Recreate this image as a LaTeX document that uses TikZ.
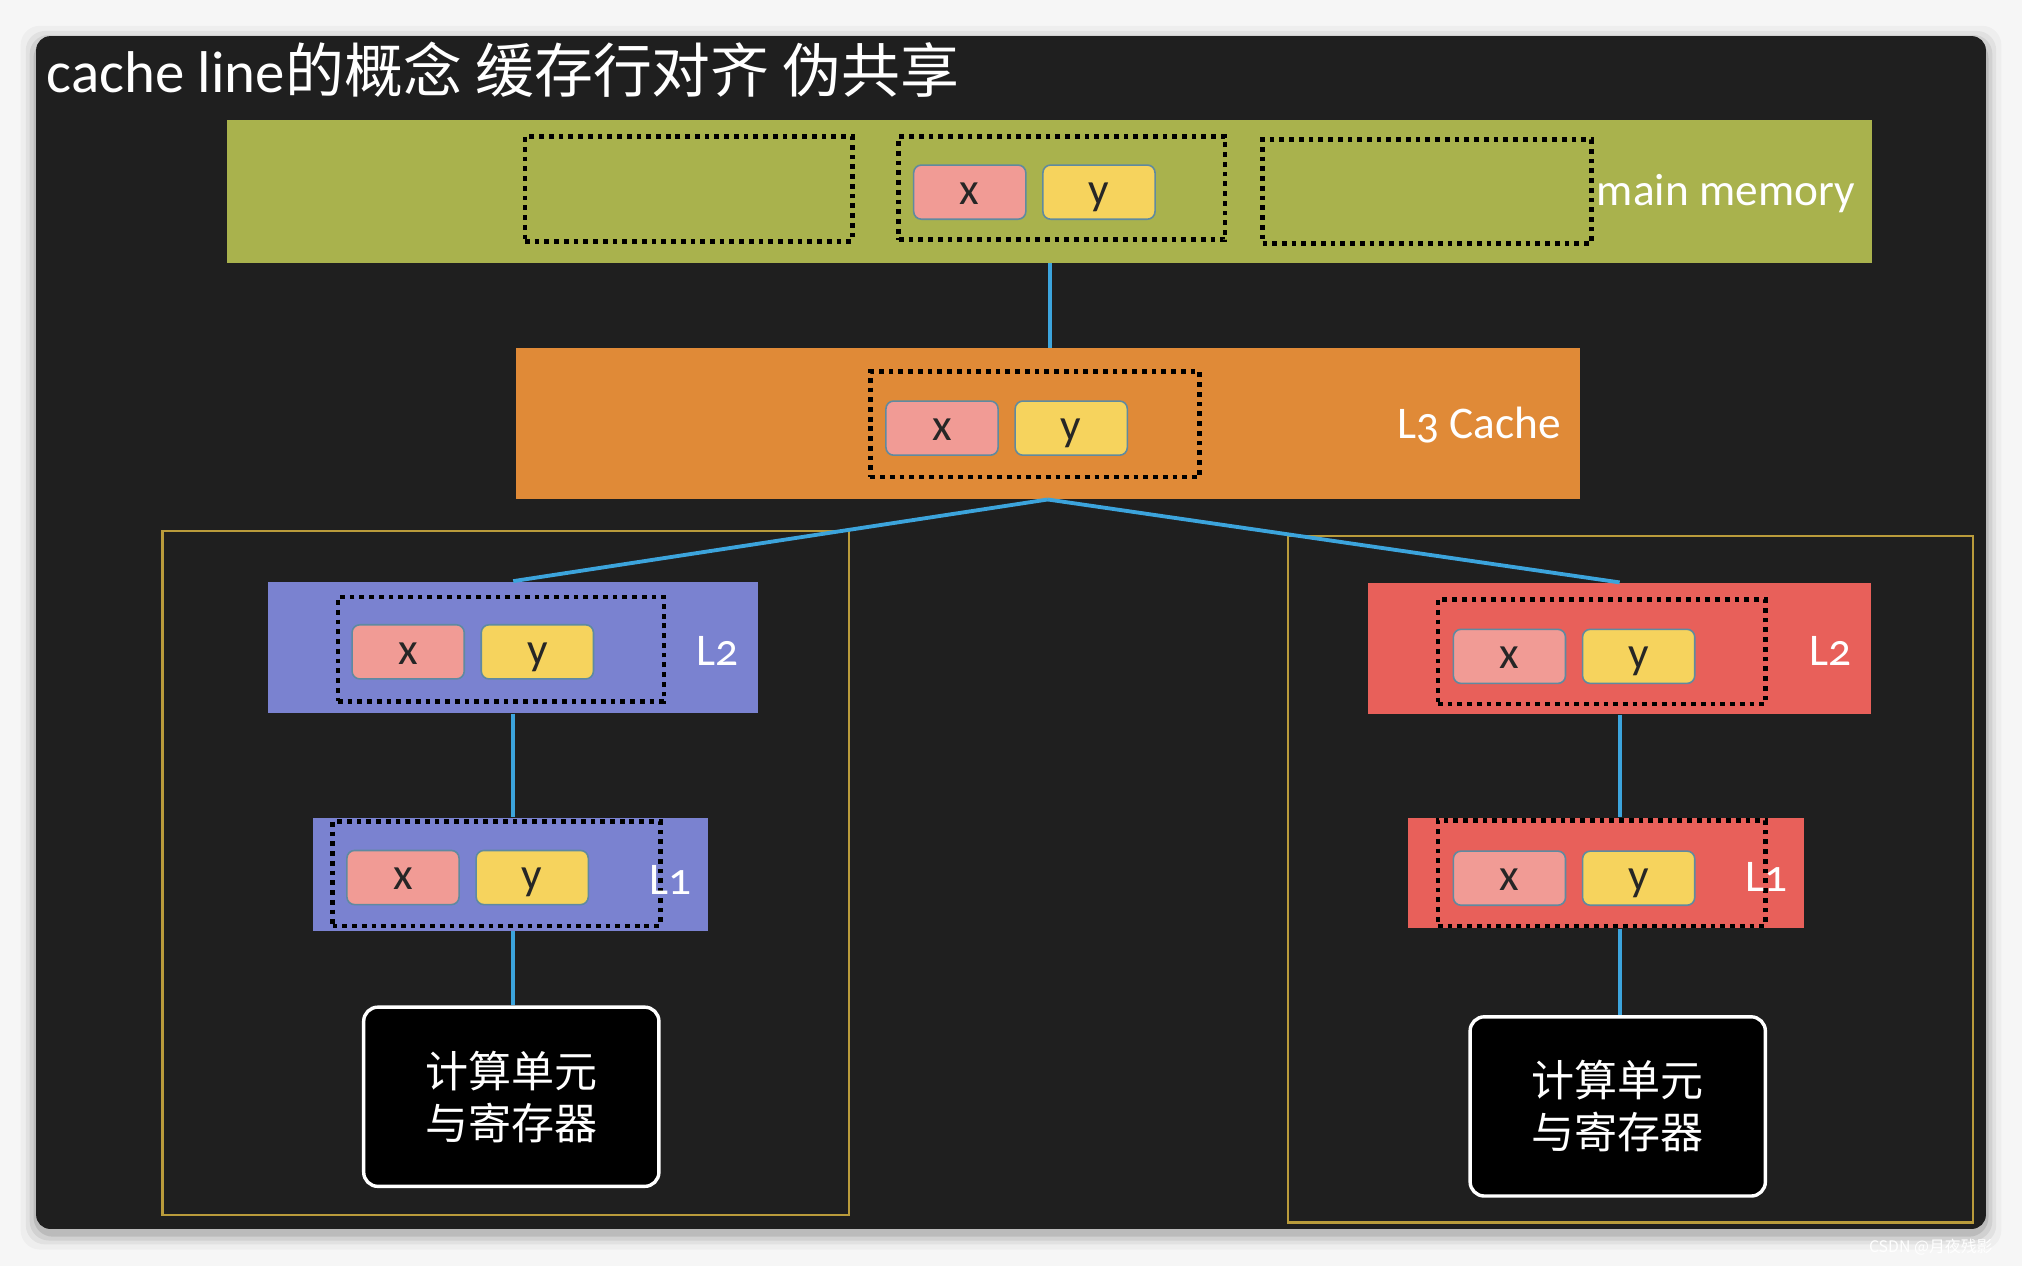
\documentclass[tikz,border=0pt]{standalone}
\usepackage{fontspec}
\setmainfont{Carlito}[Numbers=OldStyle]
\newfontfamily\cjk{Noto Sans CJK SC}
\usepackage{tikz}
\usetikzlibrary{positioning}

\definecolor{pagebg}{HTML}{F6F6F6}
\definecolor{board}{HTML}{1F1F1F}
\definecolor{memgreen}{HTML}{A9B24D}
\definecolor{lthree}{HTML}{E08A37}
\definecolor{coreblue}{HTML}{7A82D0}
\definecolor{corered}{HTML}{E8605A}
\definecolor{xpink}{HTML}{F19B95}
\definecolor{yyellow}{HTML}{F6D35D}
\definecolor{cellborder}{HTML}{5F8AA0}
\definecolor{linkblue}{HTML}{3CA4DC}
\definecolor{framegold}{HTML}{B99B3B}

\begin{document}
\begin{tikzpicture}[x=0.02cm, y=-0.02cm,
    bar/.style={rectangle, inner sep=0pt},
    cacheline/.style={rectangle, draw=black, line width=2.1pt, dash pattern=on 2.1pt off 2.2pt, inner sep=0pt},
    cell/.style={rectangle, rounded corners=0.12cm, draw=cellborder, line width=0.7pt,
      minimum width=1.74cm, minimum height=0.84cm, inner sep=0pt, text=black!85,
      text height=11pt, text depth=0pt, font=\fontsize{20}{24}\selectfont},
    xcell/.style={cell, fill=xpink},
    ycell/.style={cell, fill=yyellow},
    lvl/.style={anchor=west, inner sep=0pt, text=white, font=\fontsize{20}{24}\selectfont},
    link/.style={draw=linkblue, line width=1.7pt},
    core/.style={rectangle, rounded corners=0.22cm, draw=white, line width=1.5pt, fill=black,
      text=white, align=center, minimum width=4.58cm, minimum height=2.78cm,
      font=\cjk\fontsize{19}{23}\selectfont},
    frame/.style={draw=framegold, line width=0.9pt}]

  % page and chalk board
  \fill[pagebg] (0,0) rectangle (1568,982);
  \useasboundingbox (0,0) rectangle (1568,982);
  \foreach \s/\o in {12/0.03, 8/0.05, 5/0.07, 2/0.1}
    \fill[black, opacity=\o, rounded corners=0.3cm] (28-\s,28-\s+4) rectangle (1540+\s,953+\s+4);
  \fill[board, rounded corners=0.22cm] (28,28) rectangle (1540,953);

  \node[anchor=base west, inner sep=0pt, text=white, font=\fontsize{26}{30}\selectfont] (title) at (36,72)
    {cache line{\cjk 的概念 缓存行对齐 伪共享}};

  % main memory
  \node[bar, fill=memgreen, minimum width=25.52cm, minimum height=2.22cm] (mem) at (814,148.5) {};
  \node[cacheline, minimum width=5.08cm, minimum height=1.62cm] (mema) at (534,146.5) {};
  \node[cacheline, minimum width=5.06cm, minimum height=1.6cm] (memb) at (823.5,146) {};
  \node[cacheline, minimum width=5.1cm, minimum height=1.62cm] (memc) at (1106.5,148.5) {};
  \node[xcell] (memx) at (752,149) {x};
  \node[ycell, right=0.24cm of memx] (memy) {y};
  \node[lvl] (memlabel) at (1238,150) {main memory};

  % L3
  \node[bar, fill=lthree, minimum width=16.5cm, minimum height=2.34cm] (l3) at (812.5,328.5) {};
  \node[cacheline, minimum width=5.1cm, minimum height=1.64cm] (l3line) at (802.5,329) {};
  \node[xcell] (l3x) at (730.5,332) {x};
  \node[ycell, right=0.24cm of l3x] (l3y) {y};
  \node[lvl] (l3label) at (1083,330) {L3 Cache};

  % two cores
  \draw[frame] (126,412) rectangle (658,942);
  \draw[frame] (999,416) rectangle (1530,948);

  \node[bar, fill=coreblue, minimum width=7.6cm, minimum height=2.04cm] (l2a) at (398,502) {};
  \node[cacheline, minimum width=5.06cm, minimum height=1.62cm] (l2aline) at (388.5,503.5) {};
  \node[xcell] (l2ax) at (316.5,505.5) {x};
  \node[ycell, right=0.24cm of l2ax] (l2ay) {y};
  \node[lvl] (l2alabel) at (540,505) {L2};

  \node[bar, fill=coreblue, minimum width=6.12cm, minimum height=1.76cm] (l1a) at (396,678) {};
  \node[cacheline, minimum width=5.08cm, minimum height=1.62cm] (l1aline) at (385,677.5) {};
  \node[xcell] (l1ax) at (312.5,680.5) {x};
  \node[ycell, right=0.24cm of l1ax] (l1ay) {y};
  \node[lvl] (l1alabel) at (503,682) {L1};

  \node[core] (corea) at (396.5,850.5) {计算单元\\与寄存器};

  \node[bar, fill=corered, minimum width=7.8cm, minimum height=2.04cm] (l2b) at (1256,503) {};
  \node[cacheline, minimum width=5.08cm, minimum height=1.62cm] (l2bline) at (1242,505.5) {};
  \node[xcell] (l2bx) at (1170.5,509) {x};
  \node[ycell, right=0.24cm of l2bx] (l2by) {y};
  \node[lvl] (l2blabel) at (1403,505) {L2};

  \node[bar, fill=corered, minimum width=6.14cm, minimum height=1.72cm] (l1b) at (1245.5,677) {};
  \node[cacheline, minimum width=5.08cm, minimum height=1.64cm] (l1bline) at (1242,677) {};
  \node[xcell] (l1bx) at (1170.5,681) {x};
  \node[ycell, right=0.24cm of l1bx] (l1by) {y};
  \node[lvl] (l1blabel) at (1353,680) {L1};

  \node[core] (coreb) at (1254.5,858) {计算单元\\与寄存器};

  % links
  \draw[link] (mem.south) -- (mem.south |- l3.north);
  \draw[link] (l3.south) -- (l2a.north);
  \draw[link] (l3.south) -- (l2b.north);
  \draw[link] (l2a.south) -- (l2a.south |- l1a.north);
  \draw[link] (l2a.south |- l1a.south) -- (l2a.south |- corea.north);
  \draw[link] (l2b.south) -- (l2b.south |- l1b.north);
  \draw[link] (l2b.south |- l1b.south) -- (l2b.south |- coreb.north);

  \node[anchor=west, inner sep=0pt, text=white, font=\cjk\fontsize{7}{8}\selectfont] (mark) at (1449,967) {CSDN @月夜残影};
\end{tikzpicture}
\end{document}
